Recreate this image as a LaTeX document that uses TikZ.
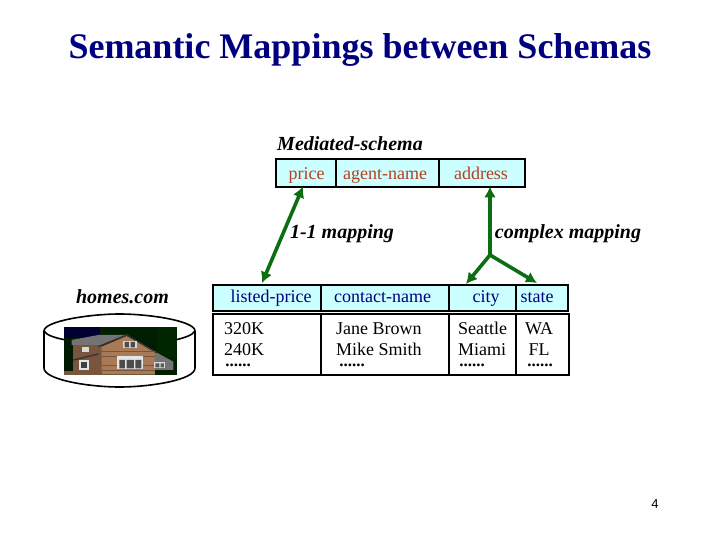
\documentclass[tikz,border=0pt]{standalone}
\usepackage{fontspec}
\setmainfont{Liberation Serif}
\newfontfamily\arialfont{Liberation Sans}
\usetikzlibrary{arrows.meta}
\definecolor{cellcyan}{HTML}{CCFFFF}
\definecolor{medred}{HTML}{B5401E}
\definecolor{srcblue}{HTML}{00007F}
\definecolor{mapgreen}{HTML}{0B6E12}
\definecolor{wallbrown}{RGB}{168,122,88}
\definecolor{wallshade}{RGB}{120,85,60}
\tikzset{
  cell/.style={draw=black,line width=1.6pt,fill=cellcyan,inner sep=0pt,anchor=north west},
  bodycell/.style={draw=black,line width=1.6pt,fill=white,inner sep=0pt,anchor=north west},
  hred/.style={text=medred,font=\fontsize{18}{20}\selectfont,inner sep=0pt,anchor=base},
  hblue/.style={text=srcblue,font=\fontsize{18}{20}\selectfont,inner sep=0pt,anchor=base},
  bodytxt/.style={font=\fontsize{18}{21}\selectfont,inner sep=0pt,anchor=base west},
  dots/.style={font=\bfseries\fontsize{17}{17}\selectfont,inner sep=0pt,anchor=base},
  ital/.style={font=\bfseries\itshape\fontsize{20}{22}\selectfont,inner sep=0pt,anchor=base},
  maparrow/.style={draw=mapgreen,line width=3.6pt},
  tip/.style={-{Latex[length=11pt,width=12pt]}},
  twotip/.style={{Latex[length=11pt,width=12pt]}-{Latex[length=11pt,width=12pt]}},
}
\newcommand{\cellbox}[6]{\node[#1,minimum width=#5pt-#3pt,minimum height=#6pt-#4pt] (#2) at (#3,#4) {};}
\begin{document}
\begin{tikzpicture}[x=1pt,y=-1pt]
\useasboundingbox (0,0) rectangle (720,540);
\node[text=srcblue,font=\bfseries\fontsize{36}{38}\selectfont,inner sep=0pt,anchor=base] (title) at (360,59) {Semantic Mappings between Schemas};
\node[ital] (medlabel) at (350,151) {Mediated-schema};
% mediated schema
\cellbox{cell}{mprice}{275}{158}{335}{186}
\cellbox{cell}{magent}{335}{158}{438}{186}
\cellbox{cell}{maddr}{438}{158}{524}{186}
\node[hred] at (306.5,180) {price};
\node[hred] at (385,180) {agent-name};
\node[hred] at (481,180) {address};
% source header
\cellbox{cell}{slist}{212}{284}{320}{310}
\cellbox{cell}{scontact}{320}{284}{448}{310}
\cellbox{cell}{scity}{448}{284}{515}{310}
\cellbox{cell}{sstate}{515}{284}{567}{310}
\node[hblue] at (271,302) {listed-price};
\node[hblue] at (382.5,302) {contact-name};
\node[hblue] at (486,302) {city};
\node[hblue] at (537,302) {state};
% source body
\cellbox{bodycell}{blist}{212}{313}{320}{374}
\cellbox{bodycell}{bcontact}{320}{313}{448}{374}
\cellbox{bodycell}{bcity}{448}{313}{515}{374}
\cellbox{bodycell}{bstate}{515}{313}{568}{374}
\node[bodytxt] at (224,334) {320K};
\node[bodytxt] at (224,355) {240K};
\node[bodytxt] at (336,334) {Jane Brown};
\node[bodytxt] at (336,355) {Mike Smith};
\node[bodytxt] at (458,334) {Seattle};
\node[bodytxt] at (458,355) {Miami};
\node[bodytxt,anchor=base] at (539,334) {WA};
\node[bodytxt,anchor=base] at (539,355) {FL};
\node[dots] at (238,366) {......};
\node[dots] at (352,366) {......};
\node[dots] at (472,366) {......};
\node[dots] at (540,366) {......};
% labels
\node[ital] (lab11) at (342,238) {1-1 mapping};
\node[ital] (labcx) at (568,238) {complex mapping};
\node[ital] (homes) at (122.5,303) {homes.com};
% arrows
\coordinate (split) at (490,255);
\coordinate (priceend) at (303,186.5);
\coordinate (listend) at (262,283);
\coordinate (addrend) at (490,186.5);
\coordinate (cityend) at (466,284);
\coordinate (stateend) at (537,283);
\draw[maparrow,twotip] (priceend) -- (listend);
\draw[maparrow,tip] (split) -- (addrend);
\draw[maparrow,tip] (split) -- (cityend);
\draw[maparrow,tip] (split) -- (stateend);
% cylinder
\begin{scope}[line width=1.6pt]
\draw[fill=white] (44,331) .. controls (44,321) and (90,314) .. (119.5,314) .. controls (150,314) and (195,321) .. (195,331) -- (195,368) .. controls (195,380) and (150,387) .. (119.5,387) .. controls (90,387) and (44,380) .. (44,368) -- cycle;
\draw (44,331) .. controls (46,335) and (55,338) .. (66,340);
\draw (195,331) .. controls (193,335) and (184,338) .. (175,340);
\end{scope}
% house photo
\begin{scope}[shift={(30,280)},x=0.3333pt,y=-0.3333pt]
\fill[fill=black!88!green] (102,141) rectangle (441,284);
\fill[fill=blue!20!black] (102,141) rectangle (210,175);
\fill[fill=green!15!black] (380,141) rectangle (441,230);
\fill[fill=green!10!black] (102,175) rectangle (130,284);
\fill[fill=black!55] (125,180) -- (205,165) -- (290,165) -- (215,195) -- (125,195) -- cycle;
\fill[fill=wallshade] (130,195) rectangle (215,272);
\fill[fill=wallbrown] (215,200) -- (290,168) -- (375,215) -- (375,284) -- (215,284) -- cycle;
\fill[fill=black!55] (375,215) -- (430,245) -- (430,270) -- (375,270) -- cycle;
\draw[draw=black!80,line width=1.4pt] (130,240) -- (205,222) (205,200) -- (290,165) -- (380,218);
\draw[draw=wallshade,line width=0.4pt] (215,215) -- (375,215) (215,230) -- (375,230) (215,255) -- (375,255) (215,270) -- (375,270);
\fill[fill=white!85!black] (278,182) rectangle (320,205);
\fill[fill=black!70] (284,186) rectangle (297,202) (302,186) rectangle (315,202);
\fill[fill=white!90!black] (262,228) rectangle (338,268);
\fill[fill=black!70] (268,240) rectangle (285,265) (290,240) rectangle (312,265) (316,240) rectangle (334,265);
\fill[fill=white!85!black] (372,245) rectangle (405,265);
\fill[fill=black!65] (376,250) rectangle (388,262) (392,250) rectangle (402,262);
\fill[fill=white!90!black] (148,240) rectangle (178,270);
\fill[fill=black!75] (154,246) rectangle (172,264);
\fill[fill=white!85!black] (155,200) rectangle (178,215);
\fill[fill=wallshade] (102,272) rectangle (215,284);
\end{scope}
\node[font=\arialfont\fontsize{13}{14}\selectfont,inner sep=0pt] (pagenum) at (655,504) {4};
\end{tikzpicture}
\end{document}
